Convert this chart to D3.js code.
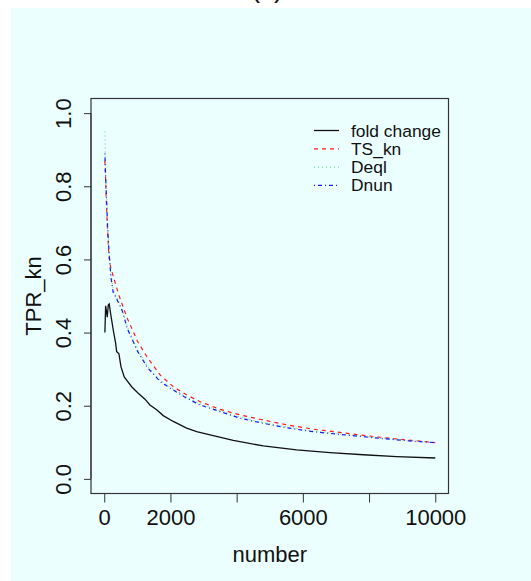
<!DOCTYPE html>
<html>
<head>
<meta charset="utf-8">
<script src="https://cdn.jsdelivr.net/npm/d3@7/dist/d3.min.js"></script>
<style>
  body { margin: 0; background: #fff; }
  svg text { font-family: "Liberation Sans", Arial, Helvetica, sans-serif; fill: #111; }
</style>
</head>
<body>
<div id="chart"></div>
<script>
// data
const foldX = [20, 42, 91, 121, 151, 193, 272, 344, 375, 444, 505, 604, 677, 828, 1027, 1230, 1381, 1583, 1782, 2085, 2489, 2792, 3293, 3897, 4804, 5813, 6819, 7825, 8834, 10000];
const foldChange = [0.40, 0.473, 0.442, 0.475, 0.478, 0.452, 0.407, 0.371, 0.348, 0.342, 0.307, 0.279, 0.270, 0.252, 0.234, 0.218, 0.202, 0.189, 0.173, 0.157, 0.139, 0.129, 0.118, 0.105, 0.090, 0.079, 0.072, 0.066, 0.061, 0.057];

const numX = [20, 40, 70, 100, 140, 200, 270, 350, 450, 550, 700, 850, 1000, 1300, 1700, 2100, 2500, 2900, 3500, 4100, 4800, 5500, 6300, 7300, 8300, 9200, 10000];
const tsKn = [0.87, 0.82, 0.74, 0.68, 0.61, 0.575, 0.555, 0.53, 0.50, 0.475, 0.438, 0.408, 0.377, 0.332, 0.283, 0.251, 0.229, 0.211, 0.190, 0.175, 0.161, 0.148, 0.136, 0.125, 0.114, 0.106, 0.099];
const deql = [0.95, 0.86, 0.77, 0.70, 0.63, 0.56, 0.52, 0.50, 0.483, 0.46, 0.415, 0.383, 0.354, 0.308, 0.268, 0.245, 0.223, 0.205, 0.186, 0.169, 0.154, 0.142, 0.131, 0.121, 0.112, 0.105, 0.100];
const dnun = [0.89, 0.83, 0.765, 0.69, 0.627, 0.553, 0.51, 0.497, 0.478, 0.458, 0.41, 0.38, 0.35, 0.305, 0.265, 0.242, 0.220, 0.202, 0.184, 0.166, 0.152, 0.140, 0.129, 0.120, 0.111, 0.104, 0.099];

const xTicks = [0, 2000, 4000, 6000, 8000, 10000];
const xTickLabels = ["0", "2000", "", "6000", "", "10000"];
const yTicks = [0, 0.2, 0.4, 0.6, 0.8, 1.0];
const legendNames = ["fold change", "TS_kn", "Deql", "Dnun"];

let width = 531, height = 581;

const svg = d3.select('#chart')
    .append('svg')
    .attr('width', width)
    .attr('height', height);

// cyan panel
svg.append('rect')
    .attr('x', 11).attr('y', 8)
    .attr('width', width - 11).attr('height', height - 8)
    .attr('fill', '#ebfffe');

// title, mostly cut off at the top
svg.append('text')
    .attr('x', 267).attr('y', -3)
    .attr('text-anchor', 'middle')
    .style('font-size', '28px')
    .text('(c)');

// scales (R style 4% padding)
let xScale = d3.scaleLinear()
    .domain([-400, 10400])
    .range([91, 448.5]);

let yScale = d3.scaleLinear()
    .domain([-0.04, 1.04])
    .range([493.5, 98.5]);

// plot box
svg.append('rect')
    .attr('x', xScale(-400))
    .attr('y', yScale(1.04))
    .attr('width', xScale(10400) - xScale(-400))
    .attr('height', yScale(-0.04) - yScale(1.04))
    .attr('fill', 'none')
    .attr('stroke', '#333')
    .attr('stroke-width', 1.2);

// x axis
let xAxis = svg.append('g')
    .attr('transform', 'translate(0,' + yScale(-0.04) + ')')
    .call(d3.axisBottom(xScale)
        .tickValues(xTicks)
        .tickSize(9)
        .tickPadding(7)
        .tickFormat((d, i) => xTickLabels[i]));
xAxis.select('.domain')
    .attr('d', 'M' + xScale(0) + ',0H' + xScale(10000))
    .attr('stroke', '#333');
xAxis.selectAll('line').attr('stroke', '#333');
xAxis.selectAll('text')
    .style('font-size', '22px')
    .attr('fill', '#111');

// y axis
let yAxis = svg.append('g')
    .attr('transform', 'translate(' + xScale(-400) + ',0)')
    .call(d3.axisLeft(yScale)
        .tickValues(yTicks)
        .tickSize(7)
        .tickFormat(d3.format('.1f')));
yAxis.select('.domain')
    .attr('d', 'M0,' + yScale(0) + 'V' + yScale(1))
    .attr('stroke', '#333');
yAxis.selectAll('line').attr('stroke', '#333');
yAxis.selectAll('text')
    .style('font-size', '22px')
    .attr('fill', '#111')
    .attr('x', null).attr('dy', null)
    .attr('text-anchor', 'middle')
    .attr('transform', 'translate(-20,0) rotate(-90)');

// axis titles
svg.append('text')
    .attr('x', (xScale(-400) + xScale(10400)) / 2)
    .attr('y', 562)
    .attr('text-anchor', 'middle')
    .style('font-size', '22px')
    .text('number');

svg.append('text')
    .attr('transform', 'translate(41,' + (yScale(-0.04) + yScale(1.04)) / 2 + ') rotate(-90)')
    .attr('text-anchor', 'middle')
    .style('font-size', '22px')
    .text('TPR_kn');

// lines
const series = [
    {name: legendNames[0], xs: foldX, ys: foldChange, color: '#111', dash: null, w: 1.3},
    {name: legendNames[1], xs: numX, ys: tsKn, color: '#ff1a1a', dash: '4,4', w: 1.2},
    {name: legendNames[2], xs: numX, ys: deql, color: '#6fdc95', dash: '1,3', w: 1.2},
    {name: legendNames[3], xs: numX, ys: dnun, color: '#1a1aff', dash: '1,3,4,3', w: 1.2}
];

let line = d3.line()
    .x(d => xScale(d[0]))
    .y(d => yScale(d[1]));

// draw order: fold change, TS_kn, Deql, Dnun
series.forEach(s => {
    svg.append('path')
        .datum(s.xs.map((x, i) => [x, s.ys[i]]))
        .attr('fill', 'none')
        .attr('stroke', s.color)
        .attr('stroke-width', s.w)
        .attr('stroke-dasharray', s.dash)
        .attr('d', line);
});

// legend (no box)
let legend = svg.append('g');
series.forEach((s, i) => {
    let yBase = 136.5 + i * 18.3;
    legend.append('line')
        .attr('x1', 314).attr('x2', 339)
        .attr('y1', yBase - 6).attr('y2', yBase - 6)
        .attr('stroke', s.color)
        .attr('stroke-width', s.w)
        .attr('stroke-dasharray', s.dash);
    legend.append('text')
        .attr('x', 351).attr('y', yBase)
        .style('font-size', '17.4px')
        .text(s.name);
});
</script>
</body>
</html>
